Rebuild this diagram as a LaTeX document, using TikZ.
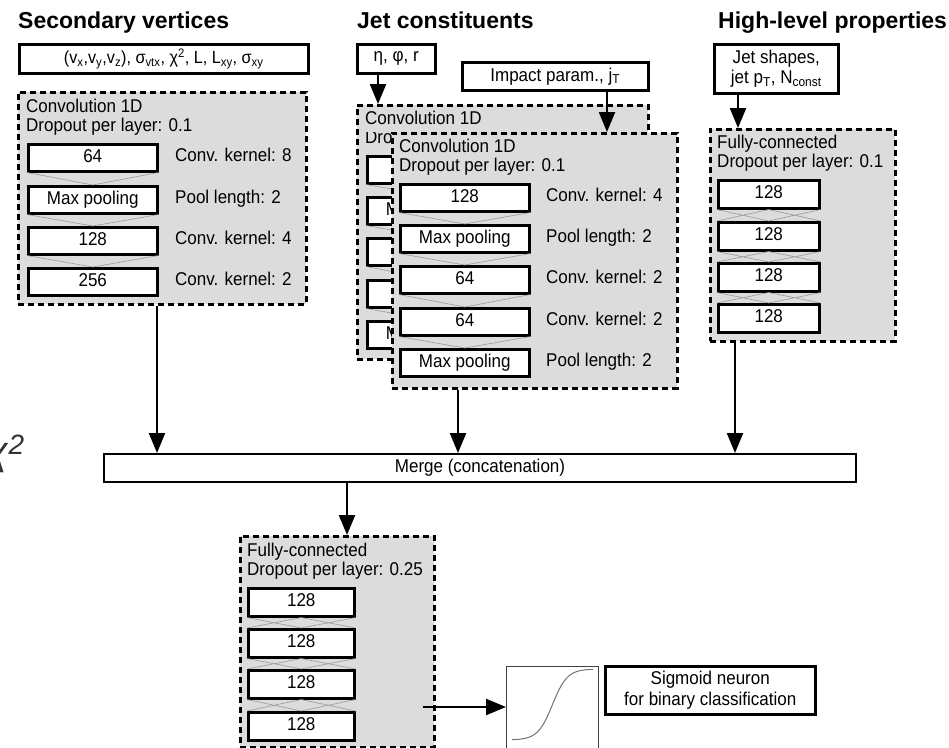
\documentclass[tikz,border=0pt]{standalone}
\usepackage{fontspec}
\setmainfont{Liberation Sans}[FakeStretch=0.92]
\newfontfamily\ttlfont{Liberation Sans}
\usetikzlibrary{arrows.meta}
\definecolor{blockgray}{RGB}{220,220,220}
\newcommand\fsn{\fontsize{18.5}{20.5}\selectfont}
\newcommand\fsi{\fontsize{17.6}{20}\selectfont}
\newcommand\fst{\ttlfont\fontsize{23}{26}\selectfont\bfseries}
\begin{document}
\begin{tikzpicture}[x=1pt,y=-1pt,
  layer/.style={draw, line width=2.5pt, fill=white, minimum height=27pt, inner sep=0pt,
    anchor=north west, font=\fsn, text height=13pt, text depth=3.8pt},
  blk/.style={draw, line width=2.6pt, dash pattern=on 6pt off 4pt, fill=blockgray,
    inner sep=0pt, anchor=north west},
  inbox/.style={draw, line width=2.5pt, fill=white, inner sep=0pt, anchor=north west,
    font=\fsn, align=center},
  txt/.style={anchor=base west, inner sep=0pt, font=\fsn},
  lbl/.style={anchor=west, inner sep=0pt, font=\fsn, text height=13pt, text depth=3.8pt},
  ttl/.style={anchor=base west, inner sep=0pt, font=\fst},
  arr/.style={line width=2.3pt, -{Triangle[length=20pt,width=16pt]}},
  conn/.style={draw=black!40, line width=0.6pt},
]
\useasboundingbox (0,0) rectangle (949,747);
\clip (0,0) rectangle (949,747);
\fill[white] (0,0) rectangle (949,747);

% partial chi^2 at left edge
\node[anchor=base east, inner sep=0pt, text=black!80, font=\ttlfont\fontsize{40}{40}\selectfont\itshape] (chi) at (25,464) {χ\textsuperscript{2}};

% titles
\node[ttl] (t1) at (18,28) {Secondary vertices};
\node[ttl] (t2) at (357,28) {Jet constituents};
\node[ttl] (t3) at (718,28) {High-level properties};

% input boxes
\node[inbox, minimum width=289pt, minimum height=29pt, font=\fsi] (svin) at (18,43)
  {(v\textsubscript{x},v\textsubscript{y},v\textsubscript{z}), σ\textsubscript{vtx}, χ\textsuperscript{2}, L, L\textsubscript{xy}, σ\textsubscript{xy}};
\node[inbox, minimum width=78pt, minimum height=29pt] (etain) at (356,43) {η, φ, r};
\node[inbox, minimum width=186pt, minimum height=28pt] (ipin) at (461,61) {Impact param., j\textsubscript{T}};
\node[inbox, minimum width=124pt, minimum height=49pt] (hlin) at (713,43) {Jet shapes,\\jet p\textsubscript{T}, N\textsubscript{const}};

% secondary vertices block
\node[blk, minimum width=288pt, minimum height=212pt] (sv) at (17,91) {};
\node[txt] (svh1) at (26,112) {Convolution 1D};
\node[txt] (svh2) at (26,131) {Dropout per layer: 0.1};
\foreach \n/\y/\t/\l in {1/143/64/Conv. kernel: 8, 2/185/Max pooling/Pool length: 2,
    3/226/128/Conv. kernel: 4, 4/267/256/Conv. kernel: 2} {
  \node[layer, minimum width=129pt] (sv\n) at (27,\y) {\t};
  \node[lbl] (svl\n) at (175,\y+13.5) {\l};
}
\foreach \a/\b in {1/2,2/3,3/4}
  \draw[conn] (sv\a.south west) -- (sv\b.north) (sv\a.south east) -- (sv\b.north);

% jet constituents: back block (mostly hidden behind the front one)
\node[blk, minimum width=291pt, minimum height=254pt] (jback) at (356,104) {};
\node[txt] (jbh1) at (365,124) {Convolution 1D};
\foreach \n/\y in {1/155, 2/196, 3/237, 4/279, 5/320} {
  \node[layer, minimum width=129pt] (jb\n) at (366,\y) {};
}
\foreach \a/\b in {1/2,2/3,3/4,4/5}
  \draw[conn] (jb\a.south west) -- (jb\b.north) (jb\a.south east) -- (jb\b.north);
\begin{scope}
  \clip (350,132) rectangle (391,360);
  \node[txt] (jbh2) at (365,143) {Dro\phantom{pout per layer: 0.1}};
  \node[layer, draw=none, fill=none, minimum width=129pt] (jbt2) at (366,196) {M\phantom{ax pooling}};
  \node[layer, draw=none, fill=none, minimum width=129pt] (jbt5) at (366,320) {M\phantom{ax pooling}};
\end{scope}

% jet constituents: front block
\node[blk, minimum width=285pt, minimum height=255pt] (jfront) at (391,132) {};
\node[txt] (jfh1) at (399,152) {Convolution 1D};
\node[txt] (jfh2) at (399,171) {Dropout per layer: 0.1};
\foreach \n/\y/\t/\l in {1/183/128/Conv. kernel: 4, 2/224/Max pooling/Pool length: 2,
    3/265/64/Conv. kernel: 2, 4/307/64/Conv. kernel: 2, 5/348/Max pooling/Pool length: 2} {
  \node[layer, minimum width=129pt] (jf\n) at (399,\y) {\t};
  \node[lbl] (jfl\n) at (546,\y+13.5) {\l};
}
\foreach \a/\b in {1/2,2/3,3/4,4/5}
  \draw[conn] (jf\a.south west) -- (jf\b.north) (jf\a.south east) -- (jf\b.north);

% high-level block
\node[blk, minimum width=185pt, minimum height=212pt] (hl) at (709,128) {};
\node[txt] (hlh1) at (717,148) {Fully-connected};
\node[txt] (hlh2) at (717,167) {Dropout per layer: 0.1};
\foreach \n/\y in {1/179, 2/221, 3/262, 4/303} {
  \node[layer, minimum width=101pt, minimum height=28pt] (hl\n) at (717,\y) {128};
}
\foreach \a/\b in {1/2,2/3,3/4}
  \draw[conn] (hl\a.south west) -- (hl\b.north) (hl\a.south) -- (hl\b.north west)
              (hl\a.south) -- (hl\b.north east) (hl\a.south east) -- (hl\b.north);

% merge
\node[inbox, line width=2pt, minimum width=752pt, minimum height=28pt] (merge) at (103,453) {Merge (concatenation)};

% final fully-connected block
\node[blk, minimum width=194pt, minimum height=211pt] (fc) at (239,535) {};
\node[txt] (fch1) at (247,556) {Fully-connected};
\node[txt] (fch2) at (247,575) {Dropout per layer: 0.25};
\foreach \n/\y in {1/587, 2/628, 3/669, 4/711} {
  \node[layer, minimum width=106pt, minimum height=28pt] (fc\n) at (247,\y) {128};
}
\foreach \a/\b in {1/2,2/3,3/4}
  \draw[conn] (fc\a.south west) -- (fc\b.north) (fc\a.south) -- (fc\b.north west)
              (fc\a.south) -- (fc\b.north east) (fc\a.south east) -- (fc\b.north);

% sigmoid
\node[draw=black!75, line width=1pt, fill=white, minimum width=92pt, minimum height=82pt,
  inner sep=0pt, anchor=north west] (sig) at (506,666) {};
\draw[black!55, line width=1pt] plot[domain=0:1, samples=60, smooth]
  ({512+81*\x}, {740-71/(1+exp(-11*(\x-0.5)))});
\node[inbox, minimum width=210pt, minimum height=48pt] (sigtxt) at (604,665)
  {Sigmoid neuron\\for binary classification};

% arrows
\coordinate (x1) at (157,0);
\coordinate (x2) at (458,0);
\coordinate (x3) at (735,0);
\coordinate (x4) at (347,0);
\coordinate (x5) at (378,0);
\coordinate (x6) at (607,0);
\coordinate (x7) at (738,0);
\coordinate (fco) at (423,707);
\draw[arr] (sv.south -| x1) -- (merge.north -| x1);
\draw[arr] (jfront.south -| x2) -- (merge.north -| x2);
\draw[arr] (hl.south -| x3) -- (merge.north -| x3);
\draw[arr] (merge.south -| x4) -- (fc.north -| x4);
\draw[arr] (etain.south -| x5) -- (jback.north -| x5);
\draw[arr] (ipin.south -| x6) -- (jfront.north -| x6);
\draw[arr] (hlin.south -| x7) -- (hl.north -| x7);
\draw[arr] (fco) -- (sig.west |- fco);
\end{tikzpicture}
\end{document}
